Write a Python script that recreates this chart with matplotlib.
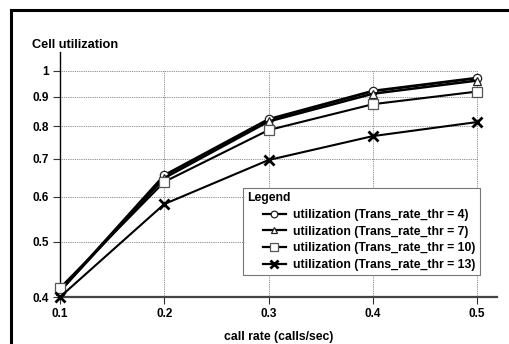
import matplotlib
matplotlib.use("Agg")
import matplotlib.pyplot as plt
from matplotlib.lines import Line2D
from matplotlib.legend_handler import HandlerLine2D
from matplotlib.ticker import FixedLocator, NullLocator

plt.rcParams['font.family'] = ['Liberation Sans', 'DejaVu Sans']
plt.rcParams['font.weight'] = 'bold'

# call rate (calls/sec)
call_rate = [0.1, 0.2, 0.3, 0.4, 0.5]

# cell utilization per transition-rate threshold
util_thr4 = [0.410, 0.655, 0.822, 0.922, 0.972]
util_thr7 = [0.410, 0.648, 0.815, 0.912, 0.962]
util_thr10 = [0.415, 0.638, 0.787, 0.874, 0.920]
util_thr13 = [0.400, 0.583, 0.697, 0.768, 0.813]

series_labels = [
    "utilization (Trans_rate_thr = 4)",
    "utilization (Trans_rate_thr = 7)",
    "utilization (Trans_rate_thr = 10)",
    "utilization (Trans_rate_thr = 13)",
]

x_ticks = [0.1, 0.2, 0.3, 0.4, 0.5]
y_ticks = [0.4, 0.5, 0.6, 0.7, 0.8, 0.9, 1.0]
y_tick_labels = ["0.4", "0.5", "0.6", "0.7", "0.8", "0.9", "1"]

W, H = 510, 344
fig = plt.figure(figsize=(W / 100, H / 100), dpi=100)
ax = fig.add_axes([60 / W, 1 - 297 / H, (497 - 60) / W, (297 - 52) / H])

ax.set_yscale('log')
ax.set_xlim(0.1, 0.519)
ax.set_ylim(0.4, 1.08)

# dotted grid bounded to the data range
ax.hlines(y_ticks, x_ticks[0], x_ticks[-1], colors='#666666',
          linestyles=(0, (1, 1.2)), linewidth=0.6, zorder=1)
ax.vlines(x_ticks, y_ticks[0], y_ticks[-1], colors='#666666',
          linestyles=(0, (1, 1.2)), linewidth=0.6, zorder=1)

styles = [
    dict(marker='o', lw=2.0, ms=6, mfc='white', mec='#222222', mew=0.9),
    dict(marker='^', lw=1.8, ms=6, mfc='white', mec='#222222', mew=0.9),
    dict(marker='s', lw=1.5, ms=6.5, mfc='white', mec='#555555', mew=0.9),
    dict(marker='x', lw=1.5, ms=7, mfc='black', mec='black', mew=2.0),
]
data = [util_thr4, util_thr7, util_thr10, util_thr13]
handles = []
for vals, st, lab in zip(data, styles, series_labels):
    h, = ax.plot(call_rate, vals, color='black', label=lab, clip_on=False,
                 zorder=3, **st)
    handles.append(h)

for side in ('top', 'right'):
    ax.spines[side].set_visible(False)
ax.spines['left'].set_linewidth(1.0)
ax.spines['left'].set_color('black')
ax.spines['bottom'].set_linewidth(1.6)
ax.spines['bottom'].set_color('#444444')

ax.xaxis.set_major_locator(FixedLocator(x_ticks))
ax.set_xticklabels(["0.1", "0.2", "0.3", "0.4", "0.5"])
ax.yaxis.set_major_locator(FixedLocator(y_ticks))
ax.yaxis.set_minor_locator(NullLocator())
ax.set_yticklabels(y_tick_labels)
ax.tick_params(axis='both', which='major', labelsize=8.5, length=5,
               width=0.8, color='#333333', pad=3, direction='out')
for t in ax.get_xticklabels() + ax.get_yticklabels():
    t.set_fontweight('bold')

ax.set_xlabel("call rate (calls/sec)", fontsize=8.8, fontweight='bold',
              labelpad=8)
fig.text(32 / W, 1 - 45 / H, "Cell utilization", fontsize=9.2,
         fontweight='bold', ha='left', va='center')


class EndMarkerHandler(HandlerLine2D):
    """Legend handle with an indented line and the marker at its right end."""

    def get_xdata(self, legend, xdescent, ydescent, width, height, fontsize):
        indent = 1.25 * fontsize
        xdata = [-xdescent + indent, -xdescent + width]
        return xdata, [-xdescent + width]


leg = ax.legend(handles=handles, title="Legend", loc='upper left',
                bbox_to_anchor=(243 / W, 1 - 188 / H),
                bbox_transform=fig.transFigure, borderaxespad=0,
                fancybox=False, framealpha=1, edgecolor='#777777',
                prop=dict(size=8.8, weight='bold'),
                title_fontproperties=dict(size=8.8, weight='bold'),
                alignment='left', handlelength=3.2, handletextpad=0.55,
                labelspacing=0.38, borderpad=0.35, markerscale=0.8,
                handler_map={Line2D: EndMarkerHandler()})
leg.get_frame().set_linewidth(0.8)
leg.set_zorder(5)
for ln in leg.get_lines():
    ln.set_linewidth(1.6)

# outer frame (top and left edges)
fig.add_artist(Line2D([11 / W, 1], [1 - 9.5 / H, 1 - 9.5 / H],
                      transform=fig.transFigure, color='black', lw=2.2))
fig.add_artist(Line2D([11.5 / W, 11.5 / W], [0, 1 - 9.5 / H],
                      transform=fig.transFigure, color='black', lw=2.2))

fig.savefig("out.png", dpi=100)
